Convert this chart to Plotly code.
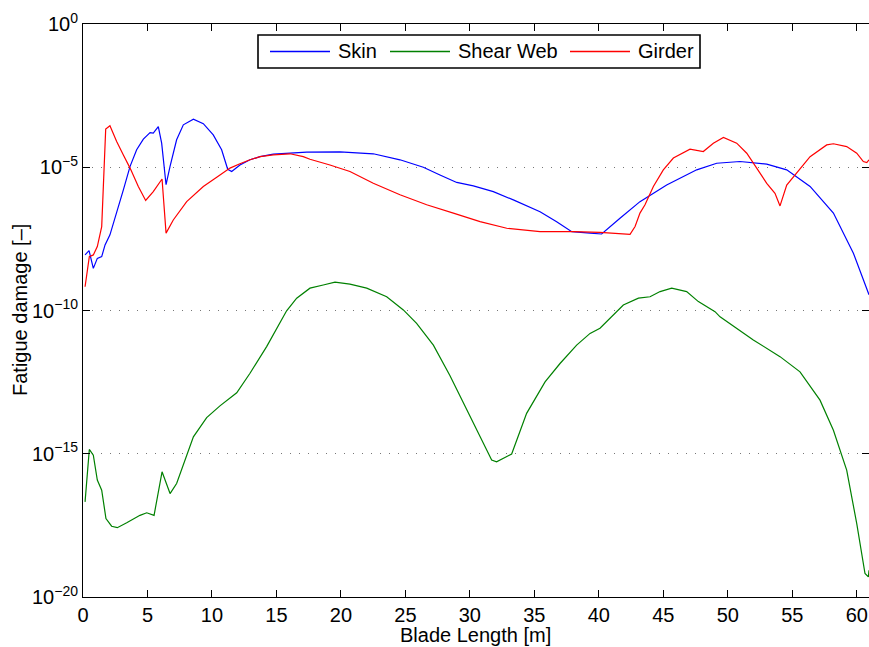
import plotly.graph_objects as go

skin_x = [0.16, 0.47, 0.8, 1.11, 1.45, 1.71, 2.09, 2.61, 3.13, 3.65, 4.16, 4.68, 5.2, 5.45, 5.84, 6.1, 6.44,
          6.75, 7.26, 7.78, 8.56, 9.33, 10.1, 10.75, 11.22, 11.53, 12.17, 12.95, 13.73, 14.76, 17.35, 19.93,
          22.51, 24.58, 26.39, 27.68, 28.98, 30.27, 31.82, 33.37, 35.44, 36.73, 37.9, 39.32, 40.22, 41.64,
          43.19, 45.26, 47.59, 49.14, 50.95, 53.02, 54.57, 56.38, 58.19, 59.74, 60.95]
skin_log = [-8.06, -7.91, -8.53, -8.18, -8.12, -7.71, -7.36, -6.60, -5.79, -4.97, -4.39, -4.02, -3.79, -3.81,
            -3.58, -4.16, -5.61, -4.97, -4.04, -3.52, -3.32, -3.48, -3.87, -4.39, -5.07, -5.15, -4.92, -4.74,
            -4.63, -4.54, -4.47, -4.46, -4.53, -4.74, -5.0, -5.27, -5.53, -5.65, -5.85, -6.14, -6.55, -6.90,
            -7.25, -7.30, -7.33, -6.78, -6.20, -5.62, -5.09, -4.86, -4.80, -4.89, -5.09, -5.67, -6.60, -8.0, -9.45]

web_x = [0.16, 0.49, 0.8, 1.11, 1.45, 1.78, 2.22, 2.66, 3.39, 4.42, 4.94, 5.51, 6.13, 6.75, 7.26, 7.65, 8.04,
         8.56, 9.59, 10.62, 11.92, 12.95, 14.24, 15.79, 16.57, 17.6, 18.63, 19.54, 20.7, 22.0, 23.55, 24.84,
         25.87, 27.17, 28.46, 30.01, 31.69, 32.07, 33.24, 34.4, 35.83, 36.99, 38.28, 39.32, 40.09, 41.9, 43.07,
         43.97, 44.75, 45.65, 46.81, 47.72, 49.01, 49.4, 50.69, 51.98, 54.05, 55.6, 57.15, 58.19, 59.22, 60.0,
         60.64, 60.9, 60.95]
web_log = [-16.68, -14.85, -15.05, -15.92, -16.27, -17.26, -17.53, -17.58, -17.41, -17.15, -17.06, -17.15,
           -15.63, -16.39, -16.04, -15.55, -14.99, -14.41, -13.74, -13.33, -12.87, -12.19, -11.26, -10.01, -9.57,
           -9.22, -9.11, -9.01, -9.08, -9.22, -9.52, -9.98, -10.45, -11.21, -12.28, -13.71, -15.22, -15.28,
           -15.01, -13.59, -12.49, -11.85, -11.21, -10.80, -10.62, -9.81, -9.57, -9.52, -9.34, -9.22, -9.34,
           -9.69, -10.04, -10.22, -10.62, -11.03, -11.61, -12.14, -13.13, -14.18, -15.57, -17.44, -19.18,
           -19.30, -19.07]

girder_x = [0.16, 0.49, 0.8, 1.11, 1.45, 1.76, 2.09, 2.61, 3.13, 3.65, 4.29, 4.86, 5.45, 6.13, 6.44, 7.0,
            8.04, 9.33, 10.37, 11.4, 12.17, 12.95, 13.73, 14.76, 16.05, 17.08, 17.6, 19.15, 20.7, 22.51, 24.58,
            26.65, 28.72, 30.79, 32.86, 35.44, 38.02, 40.09, 42.42, 42.81, 43.19, 43.58, 44.23, 45.0, 45.78,
            47.07, 48.1, 48.88, 49.66, 50.69, 51.47, 52.24, 53.02, 53.66, 54.05, 54.57, 55.34, 56.38, 57.67,
            58.19, 59.22, 60.0, 60.51, 60.78, 60.95]
girder_log = [-9.17, -8.12, -8.06, -7.77, -7.07, -3.67, -3.55, -4.10, -4.57, -5.03, -5.67, -6.16, -5.85, -5.41,
              -7.30, -6.84, -6.20, -5.67, -5.35, -5.03, -4.88, -4.74, -4.63, -4.57, -4.53, -4.63, -4.72, -4.92,
              -5.15, -5.56, -5.96, -6.31, -6.60, -6.90, -7.13, -7.25, -7.25, -7.27, -7.34, -7.07, -6.60, -6.31,
              -5.67, -5.09, -4.68, -4.37, -4.45, -4.16, -3.96, -4.16, -4.51, -5.03, -5.56, -5.91, -6.35, -5.62,
              -5.21, -4.63, -4.22, -4.18, -4.28, -4.51, -4.80, -4.84, -4.74]

series_names = ["Skin", "Shear Web", "Girder"]
series_colors = ["#0000FF", "#008000", "#FF0000"]
x_ticks = [0, 5, 10, 15, 20, 25, 30, 35, 40, 45, 50, 55, 60]
y_exps = [-20, -15, -10, -5, 0]

font_family = "Liberation Sans, Arial, sans-serif"

W, H = 869, 647
# plot area in window pixels: x 83..869, y 24..597
P_L, P_R, P_T, P_B = 83, 869, 24, 597
ML, MR, MT, MB = P_L, W - P_R, P_T, H - P_B
PW, PH = P_R - P_L, P_B - P_T


def px_x(p):
    return (p - P_L) / PW


def px_y(p):
    return (P_B - p) / PH


fig = go.Figure()
for xs, ls, name, col in zip([skin_x, web_x, girder_x], [skin_log, web_log, girder_log],
                             series_names, series_colors):
    fig.add_trace(go.Scatter(x=xs, y=[10 ** v for v in ls], mode="lines", name=name,
                             line=dict(color=col, width=1.2), showlegend=False))

# legend drawn as a box with line samples and labels
shapes = [dict(type="rect", xref="paper", yref="paper",
               x0=px_x(258), x1=px_x(700), y0=px_y(68), y1=px_y(35),
               line=dict(color="black", width=1.6), fillcolor="white", layer="above")]
annotations = []
sample_starts = [270, 390, 570]
text_starts = [337, 457, 637]
for name, col, s0, t0 in zip(series_names, series_colors, sample_starts, text_starts):
    shapes.append(dict(type="line", xref="paper", yref="paper",
                       x0=px_x(s0), x1=px_x(s0 + 60), y0=px_y(51.5), y1=px_y(51.5),
                       line=dict(color=col, width=1.3), layer="above"))
    annotations.append(dict(text=name, xref="paper", yref="paper", x=px_x(t0), y=px_y(51.5),
                            xanchor="left", yanchor="middle", showarrow=False,
                            font=dict(size=20, color="black"), xshift=-1))

# axis titles
annotations.append(dict(text="Blade Length [m]", xref="paper", yref="paper", x=px_x(475), y=px_y(635),
                        xanchor="center", yanchor="middle", showarrow=False, font=dict(size=20)))
annotations.append(dict(text="Fatigue damage [\u2013]", xref="paper", yref="paper", x=px_x(20),
                        y=px_y(310), xanchor="center", yanchor="middle", textangle=-90,
                        showarrow=False, font=dict(size=20)))

fig.update_layout(
    template="none",
    width=W, height=H,
    margin=dict(l=ML, r=MR, t=MT, b=MB, autoexpand=False),
    paper_bgcolor="white", plot_bgcolor="white",
    font=dict(family=font_family, size=20, color="black"),
    showlegend=False,
    hovermode=False,
    shapes=shapes,
    annotations=annotations,
)
fig.update_xaxes(
    range=[0, 60.95], tickvals=x_ticks, ticktext=[str(v) for v in x_ticks],
    ticks="inside", ticklen=7, tickcolor="black", showline=True, linecolor="black", linewidth=1,
    mirror="ticks", showgrid=False, zeroline=False, automargin=False,
    tickfont=dict(size=20),
)
fig.update_yaxes(
    type="log", range=[-20, 0],
    tickvals=[10 ** e for e in y_exps],
    ticktext=["10<sup>\u2212%d</sup>" % (-e) if e < 0 else "10<sup>0</sup>" for e in y_exps],
    ticks="inside", ticklen=7, tickcolor="black", showline=True, linecolor="black", linewidth=1,
    mirror="ticks", showgrid=True, gridcolor="#777777", griddash="1px,8px", gridwidth=1, zeroline=False,
    automargin=False,
    tickfont=dict(size=20),
)

fig.write_html(
    "out.html",
    config={"displayModeBar": False},
    post_script="document.body.style.margin='0';document.documentElement.style.overflow='hidden';"
                "document.body.style.overflow='hidden';",
)
